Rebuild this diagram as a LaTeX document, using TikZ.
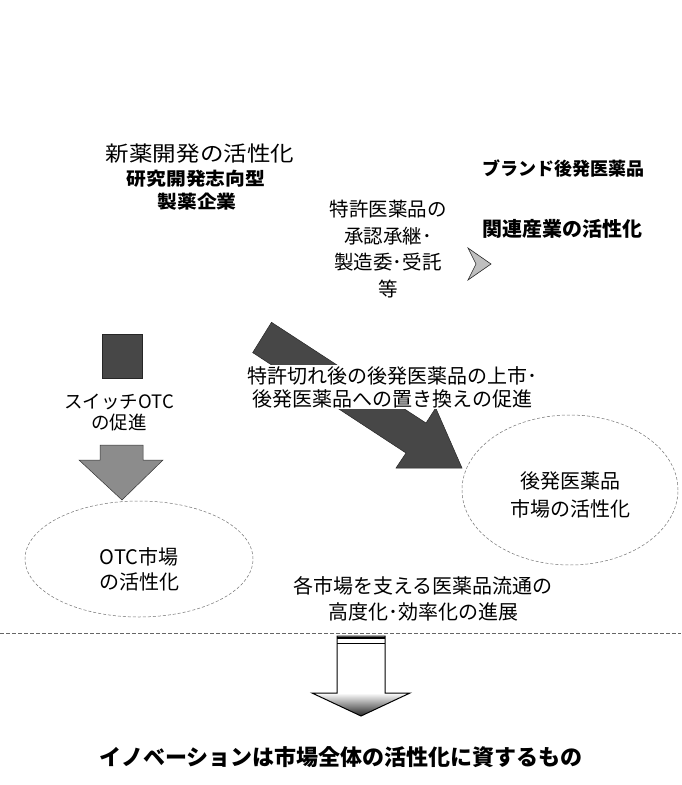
\documentclass[tikz,border=0pt]{standalone}
\usepackage{fontspec}
\newfontfamily\jp{Noto Sans CJK JP}
\usetikzlibrary{shapes.geometric}
\begin{document}
\begin{tikzpicture}[x=1pt,y=-1pt,
  jt/.style={font=\jp\fontsize{20}{25}\selectfont, inner sep=0pt, align=center},
  jb/.style={font=\jp\bfseries\fontsize{18}{22}\selectfont, inner sep=0pt, align=center},
  darkfill/.style={fill=black!72, draw=black!85, line width=0.5pt},
  midfill/.style={fill=black!45, draw=black!80, line width=0.5pt},
  ell/.style={ellipse, draw=black!55, densely dashed, line width=0.5pt, inner sep=0pt}]
\useasboundingbox (0,0) rectangle (681,785);
\fill[white] (0,0) rectangle (681,785);

% top-left texts
\node[jt, font=\jp\fontsize{21}{25}\selectfont, xscale=1.12] (newdrug) at (200,154) {新薬開発の活性化};
\node[jb, xscale=1.1] (research) at (196,179) {研究開発志向型};
\node[jb, xscale=1.1] (pharma) at (197,202) {製薬企業};

% top-right texts
\node[jb] (brand) at (563,169) {ブランド後発医薬品};
\node[jb, font=\jp\bfseries\fontsize{20}{24}\selectfont] (related) at (562,229) {関連産業の活性化};

% middle texts
\node[jt, font=\jp\fontsize{19.5}{26.5}\selectfont] (license) at (388,249) {特許医薬品の\\承認承継･\\製造委･受託\\等};

% chevron
\filldraw[fill=black!25, draw=black!85, line width=0.6pt]
  (468,248) -- (491,264) -- (468,280) -- (476,264) -- cycle;

% small square
\filldraw[darkfill] (102,334) rectangle (142,378);
\node[jt, font=\jp\fontsize{18.5}{21}\selectfont] (switch) at (119,413) {スイッチOTC\\の促進};

% down arrow to OTC
\filldraw[midfill] (100,445) -- (143,445) -- (143,460) -- (163,460) -- (122,500)
  -- (79,460) -- (100,460) -- cycle;

% OTC ellipse
\node[ell, minimum width=228pt, minimum height=116pt] (otc) at (139,559) {};
\node[jt] (otctext) at (139,569) {OTC市場\\の活性化};

% diagonal arrow
\filldraw[darkfill] (271.5,322.3) -- (426,423) -- (435.7,407.9) -- (462,468)
  -- (396,468) -- (406,453) -- (252.7,352.6) -- cycle;
\node[jt, fill=white, inner sep=1.5pt, font=\jp\fontsize{20}{23}\selectfont] (patentexp) at (392,387) {特許切れ後の後発医薬品の上市･\\後発医薬品への置き換えの促進};

% generic ellipse
\node[ell, minimum width=216pt, minimum height=150pt] (generic) at (570,490) {};
\node[jt, font=\jp\fontsize{20}{28}\selectfont] (gentext) at (570,495) {後発医薬品\\市場の活性化};

% distribution text
\node[jt, font=\jp\fontsize{20}{26}\selectfont] (distrib) at (423,599) {各市場を支える医薬品流通の\\高度化･効率化の進展};

% dashed line
\coordinate (dl) at (0,633);
\coordinate (dr) at (681,633);
\draw[black!60, dash pattern=on 4pt off 2pt, line width=0.6pt] (dl) -- (dr);

% big down arrow
\shade[top color=white, bottom color=black!85] (312,693) -- (410,693) -- (361,716) -- cycle;
\draw[line width=1pt] (337,636) -- (385,636) -- (385,693) -- (410,693) -- (361,716)
  -- (312,693) -- (337,693) -- cycle;
\draw[line width=2.5pt] (337,638) -- (385,638);
\draw[line width=0.8pt] (337,643) -- (385,643);

% conclusion
\node[jb, font=\jp\bfseries\fontsize{22}{26}\selectfont] (concl) at (341,757) {イノベーションは市場全体の活性化に資するもの};
\end{tikzpicture}
\end{document}
